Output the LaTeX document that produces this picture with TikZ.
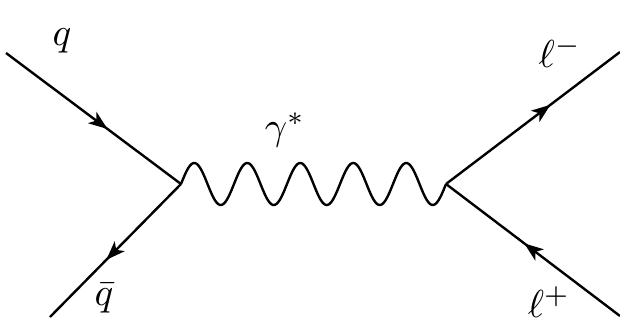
\documentclass[tikz,border=0pt]{standalone}
\usetikzlibrary{arrows.meta,decorations.markings}
\begin{document}
\begin{tikzpicture}[x=1pt,y=1pt,
  fermion/.style={line width=2.4pt,postaction={decorate},
    decoration={markings,mark=at position #1 with {\arrow{Stealth[length=19pt,width=14pt,inset=5pt]}}}},
  fermion/.default=0.55,
  photon/.style={line width=2.4pt,line join=round},
  lbl/.style={inner sep=0pt,scale=3.9}]
\useasboundingbox (0,0) rectangle (620,322);
\coordinate (L) at (181,138);
\coordinate (R) at (446,138);
\coordinate (q) at (6,269);
\coordinate (qb) at (50,5);
\coordinate (lm) at (620,270);
\coordinate (lp) at (620,6);
\draw[fermion=0.58] (q) -- (L);
\draw[fermion=0.57] (L) -- (qb);
\draw[fermion=0.6] (R) -- (lm);
\draw[fermion=0.55] (lp) -- (R);
\draw[photon] plot[domain=0:265,samples=240] ({181+\x},{138+21*sin((\x/53)*360)});
\node[lbl] (tq) at (62,281) {$q$};
\node[lbl] (tqb) at (104,24) {$\bar q$};
\node[lbl] (tg) at (285,192) {$\gamma^*$};
\node[lbl] (tlm) at (560,270) {$\ell^-$};
\node[lbl] (tlp) at (549,20) {$\ell^+$};
\end{tikzpicture}
\end{document}
